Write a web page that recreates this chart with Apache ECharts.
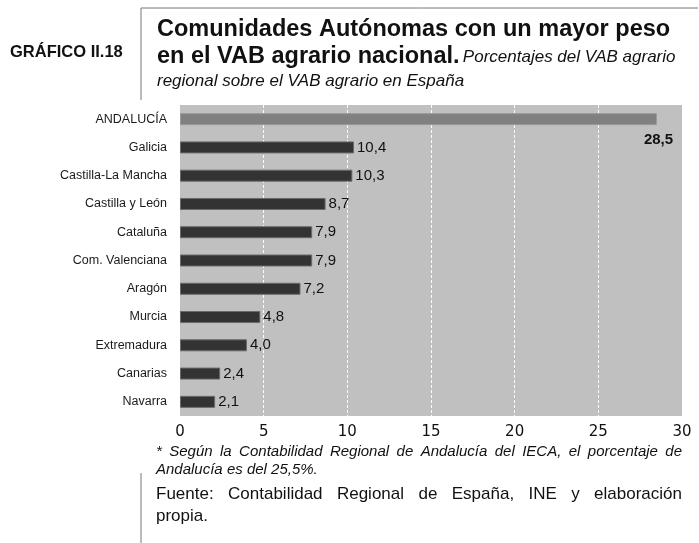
<!DOCTYPE html>
<html>
<head>
<meta charset="utf-8">
<title>Gráfico II.18</title>
<script src="https://cdn.jsdelivr.net/npm/echarts@6/dist/echarts.min.js"></script>
<style>
    html, body { margin: 0; padding: 0; background: #fff; }
    #chart { width: 699px; height: 543px; }
</style>
</head>
<body>
<div id="chart"></div>
<script>
// datos
const regiones = ['ANDALUCÍA', 'Galicia', 'Castilla-La Mancha', 'Castilla y León', 'Cataluña',
    'Com. Valenciana', 'Aragón', 'Murcia', 'Extremadura', 'Canarias', 'Navarra'];
const pesoVAB = [28.5, 10.4, 10.3, 8.7, 7.9, 7.9, 7.2, 4.8, 4.0, 2.4, 2.1];
const ejeTicks = [0, 5, 10, 15, 20, 25, 30];

const SANS = '"Liberation Sans", Arial, sans-serif';

// mide texto para justificar las lineas de las notas
const ctx = document.createElement('canvas').getContext('2d');
function justifiedLine(text, font, x0, x1, y) {
    const words = text.split(' ');
    ctx.font = font;
    const widths = words.map(w => ctx.measureText(w).width);
    const total = widths.reduce((a, b) => a + b, 0);
    const gap = (x1 - x0 - total) / (words.length - 1);
    let x = x0;
    return words.map((w, i) => {
        const el = {
            type: 'text',
            style: { text: w, x: x, y: y, font: font, fill: '#111', verticalAlign: 'middle' }
        };
        x += widths[i] + gap;
        return el;
    });
}

function plainText(text, font, x, y, align) {
    return {
        type: 'text',
        style: { text, x, y, font, fill: '#111', align: align || 'left', verticalAlign: 'middle' }
    };
}

const chart = echarts.init(document.getElementById('chart'));

const notaFont = 'italic 15px ' + SANS;
const fuenteFont = '17px ' + SANS;

const graphics = [
    // marco lateral
    { type: 'line', shape: { x1: 141, y1: 8, x2: 698, y2: 8 }, style: { stroke: '#777', lineWidth: 1 } },
    { type: 'line', shape: { x1: 141, y1: 8, x2: 141, y2: 100 }, style: { stroke: '#777', lineWidth: 1 } },
    { type: 'line', shape: { x1: 141, y1: 473, x2: 141, y2: 543 }, style: { stroke: '#777', lineWidth: 1 } },
    plainText('GRÁFICO II.18', 'bold 16.5px ' + SANS, 10, 52),
    plainText('Comunidades Autónomas con un mayor peso', 'bold 23.5px ' + SANS, 157, 30),
    {
        type: 'text',
        style: {
            x: 157, y: 57, verticalAlign: 'middle',
            text: '{b|en el VAB agrario nacional.} {i|Porcentajes del VAB agrario}',
            rich: {
                b: { font: 'bold 23.5px ' + SANS, fill: '#111' },
                i: { font: 'italic 17px ' + SANS, fill: '#111' }
            }
        }
    },
    plainText('regional sobre el VAB agrario en España', 'italic 17px ' + SANS, 157, 81),
    ...justifiedLine('* Según la Contabilidad Regional de Andalucía del IECA, el porcentaje de', notaFont, 156, 682, 452),
    plainText('Andalucía es del 25,5%.', notaFont, 156, 470),
    ...justifiedLine('Fuente: Contabilidad Regional de España, INE y elaboración', fuenteFont, 156, 682, 494),
    plainText('propia.', fuenteFont, 156, 516)
];

const barData = pesoVAB.map((v, i) => {
    if (i === 0) {
        return {
            value: v,
            itemStyle: { color: '#808080', borderColor: '#9a9a9a', borderWidth: 1 },
            label: { fontWeight: 'bold', offset: [-16, 21] }
        };
    }
    return v;
});

chart.setOption({
    animation: false,
    grid: { left: 180, top: 105, width: 502, height: 311, backgroundColor: '#c0c0c0', show: true, borderWidth: 0 },
    xAxis: {
        type: 'value',
        min: 0, max: 30, interval: 5,
        axisLine: { show: false },
        axisTick: { show: false },
        axisLabel: {
            margin: 9, fontSize: 15, color: '#111', fontFamily: '"DejaVu Sans", sans-serif',
            formatter: v => ejeTicks.includes(v) ? String(v) : ''
        },
        splitLine: {
            show: true,
            lineStyle: { color: '#ffffff', type: [3, 2], width: 1 },
            showMinLine: false, showMaxLine: false
        }
    },
    yAxis: {
        type: 'category',
        data: regiones,
        inverse: true,
        axisLine: { show: false },
        axisTick: { show: false },
        axisLabel: { fontSize: 12.5, color: '#1a1a1a', margin: 13, fontFamily: SANS }
    },
    series: [{
        type: 'bar',
        data: barData,
        barWidth: 12,
        itemStyle: { color: '#333333', borderColor: '#6a6a6a', borderWidth: 1 },
        label: {
            show: true,
            position: 'right',
            distance: 3,
            fontSize: 15,
            color: '#111',
            fontFamily: SANS,
            formatter: p => p.value.toFixed(1).replace('.', ',')
        }
    }],
    graphic: graphics
});
</script>
</body>
</html>
